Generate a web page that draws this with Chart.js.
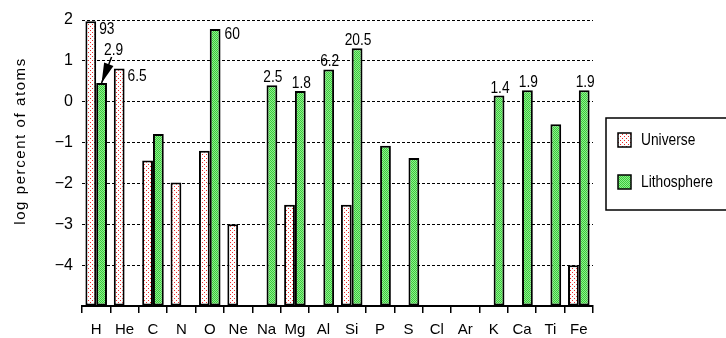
<!DOCTYPE html>
<html>
<head>
<meta charset="utf-8">
<script src="https://cdn.jsdelivr.net/npm/chart.js@4.4.1/dist/chart.umd.min.js"></script>
<style>
  html, body { margin: 0; padding: 0; background: #ffffff; }
  #wrap { width: 726px; height: 338px; }
</style>
</head>
<body>
<div id="wrap"><canvas id="c" width="726" height="338"></canvas></div>
<script>
// ---- data ----
const categories = ['H','He','C','N','O','Ne','Na','Mg','Al','Si','P','S','Cl','Ar','K','Ca','Ti','Fe'];
const universe = [1.97, 0.81, -1.44, -1.98, -1.2, -3.0, null, -2.52, null, -2.52, null, null, null, null, null, null, null, -4.0];
const lithosphere = [0.46, null, -0.79, null, 1.78, null, 0.40, 0.26, 0.79, 1.31, -1.08, -1.38, null, null, 0.15, 0.28, -0.55, 0.28];
const universeNotes = ['93', '6.5', null, null, null, null, null, null, null, null, null, null, null, null, null, null, null, null];
const lithosphereNotes = ['2.9', null, null, null, '60', null, '2.5', '1.8', '6.2', '20.5', null, null, null, null, '1.4', '1.9', null, '1.9'];
const seriesNames = ['Universe', 'Lithosphere'];
const yTickValues = [2, 1, 0, -1, -2, -3, -4];
const yAxisTitle = 'log percent of atoms';

// ---- styles ----
const FONT = "'Liberation Sans', Arial, sans-serif";

function makePattern(kind) {
  const p = document.createElement('canvas');
  const ctx = p.getContext('2d');
  if (kind === 'dots') {
    p.width = 4; p.height = 4;
    ctx.fillStyle = '#ffffff'; ctx.fillRect(0, 0, 4, 4);
    ctx.fillStyle = '#ee2a2a';
    ctx.fillRect(0, 0, 1, 1);
    ctx.fillRect(2, 2, 1, 1);
  } else {
    p.width = 2; p.height = 2;
    ctx.fillStyle = '#8cf08c'; ctx.fillRect(0, 0, 2, 2);
    ctx.fillStyle = '#3cc83c';
    ctx.fillRect(0, 0, 1, 1);
    ctx.fillRect(1, 1, 1, 1);
  }
  return ctx.createPattern(p, 'repeat');
}

// draw text horizontally condensed (the original uses a narrow face)
function narrowText(ctx, text, x, y, align) {
  const sx = 0.86;
  ctx.save();
  ctx.translate(x, y);
  ctx.scale(sx, 1);
  ctx.textAlign = align;
  ctx.fillText(text, 0, 0);
  ctx.restore();
}

const cctx = document.getElementById('c').getContext('2d');
const uniFill = makePattern('dots');
const lithoFill = makePattern('dither');

const notesPlugin = {
  id: 'notes',
  afterDatasetsDraw(chart) {
    const ctx = chart.ctx;
    ctx.save();
    ctx.fillStyle = '#000';
    ctx.strokeStyle = '#000';
    ctx.font = '16px ' + FONT;
    const m0 = chart.getDatasetMeta(0);
    universeNotes.forEach((t, i) => {
      if (!t) return;
      const el = m0.data[i];
      ctx.textBaseline = 'middle';
      narrowText(ctx, t, el.x + el.width / 2 + 3, el.y + 8, 'left');
    });
    const m1 = chart.getDatasetMeta(1);
    lithosphereNotes.forEach((t, i) => {
      if (!t) return;
      const el = m1.data[i];
      const cat = categories[i];
      if (cat === 'O') {
        ctx.textBaseline = 'middle';
        narrowText(ctx, t, el.x + el.width / 2 + 4, el.y + 6, 'left');
      } else if (cat === 'H') {
        ctx.textBaseline = 'alphabetic';
        const lx = el.x + 12, ly = el.y - 28;
        narrowText(ctx, t, lx, ly, 'center');
        const sx = lx - 2, sy = ly + 2;
        const tx = el.x, ty = el.y;
        const dx = tx - sx, dy = ty - sy;
        const len = Math.hypot(dx, dy);
        const ux = dx / len, uy = dy / len;
        ctx.lineWidth = 1.5;
        ctx.beginPath();
        ctx.moveTo(sx, sy);
        ctx.lineTo(tx, ty);
        ctx.stroke();
        const hl = 20, hw = 5;
        const bx = tx - ux * hl, by = ty - uy * hl;
        ctx.beginPath();
        ctx.moveTo(tx, ty);
        ctx.lineTo(bx - uy * hw, by + ux * hw);
        ctx.lineTo(bx + uy * hw, by - ux * hw);
        ctx.closePath();
        ctx.fill();
      } else {
        ctx.textBaseline = 'alphabetic';
        narrowText(ctx, t, el.x + 1, el.y - 3, 'center');
      }
    });
    ctx.restore();
  }
};

const decorPlugin = {
  id: 'decor',
  afterDraw(chart) {
    const ctx = chart.ctx;
    ctx.save();
    ctx.font = '15px ' + FONT;
    ctx.fillStyle = '#000';
    const w = ctx.measureText(yAxisTitle).width;
    if ('letterSpacing' in ctx) {
      const ls = Math.max(0, (166 - w) / (yAxisTitle.length - 1));
      ctx.letterSpacing = ls.toFixed(2) + 'px';
    }
    ctx.translate(21, 141);
    ctx.rotate(-Math.PI / 2);
    ctx.textAlign = 'center';
    ctx.textBaseline = 'middle';
    ctx.fillText(yAxisTitle, 0, 0);
    ctx.restore();

    // legend box
    ctx.save();
    ctx.strokeStyle = '#000';
    ctx.lineWidth = 1.5;
    ctx.strokeRect(606, 118, 140, 92);
    ctx.font = '16px ' + FONT;
    ctx.textBaseline = 'middle';
    const fills = [uniFill, lithoFill];
    const ys = [140, 182];
    seriesNames.forEach((name, i) => {
      ctx.fillStyle = fills[i];
      ctx.fillRect(618, ys[i] - 7, 13, 14);
      ctx.lineWidth = 1.5;
      ctx.strokeStyle = '#000';
      ctx.strokeRect(618, ys[i] - 7, 13, 14);
      ctx.fillStyle = '#000';
      narrowText(ctx, name, 641, ys[i] + 1, 'left');
    });
    ctx.restore();
  }
};

new Chart(cctx, {
  type: 'bar',
  data: {
    labels: categories,
    datasets: [
      {
        label: seriesNames[0],
        data: universe,
        backgroundColor: uniFill,
        borderColor: '#000',
        borderWidth: 2,
        borderSkipped: false,
        base: -5,
        categoryPercentage: 0.76,
        barPercentage: 1.0
      },
      {
        label: seriesNames[1],
        data: lithosphere,
        backgroundColor: lithoFill,
        borderColor: '#000',
        borderWidth: 2,
        borderSkipped: false,
        base: -5,
        categoryPercentage: 0.76,
        barPercentage: 1.0
      }
    ]
  },
  options: {
    responsive: false,
    animation: false,
    devicePixelRatio: 1,
    layout: { padding: { top: 20, right: 133, bottom: 0, left: 0 } },
    plugins: {
      legend: { display: false },
      tooltip: { enabled: false },
      title: { display: false }
    },
    scales: {
      x: {
        offset: true,
        grid: {
          offset: true,
          drawOnChartArea: false,
          drawTicks: true,
          tickLength: 7,
          color: '#000',
          lineWidth: 1.5
        },
        border: { display: true, color: '#000', width: 2 },
        ticks: {
          color: '#000',
          font: { family: FONT, size: 15 },
          padding: 8,
          maxRotation: 0,
          autoSkip: false
        },
        afterFit(scale) { scale.height = 32; }
      },
      y: {
        min: -5,
        max: 2,
        afterBuildTicks(scale) {
          scale.ticks = [-5].concat(yTickValues.slice().reverse()).map(v => ({ value: v }));
        },
        grid: {
          drawTicks: false,
          color: '#000',
          lineWidth: 1
        },
        border: { display: false, dash: [3, 2] },
        ticks: {
          color: '#000',
          font: { family: FONT, size: 16 },
          padding: 9,
          callback(v) {
            if (!yTickValues.includes(v)) return '';
            return v < 0 ? '\u2212' + Math.abs(v) : String(v);
          }
        },
        afterFit(scale) { scale.width = 82; }
      }
    }
  },
  plugins: [notesPlugin, decorPlugin]
});
</script>
</body>
</html>
